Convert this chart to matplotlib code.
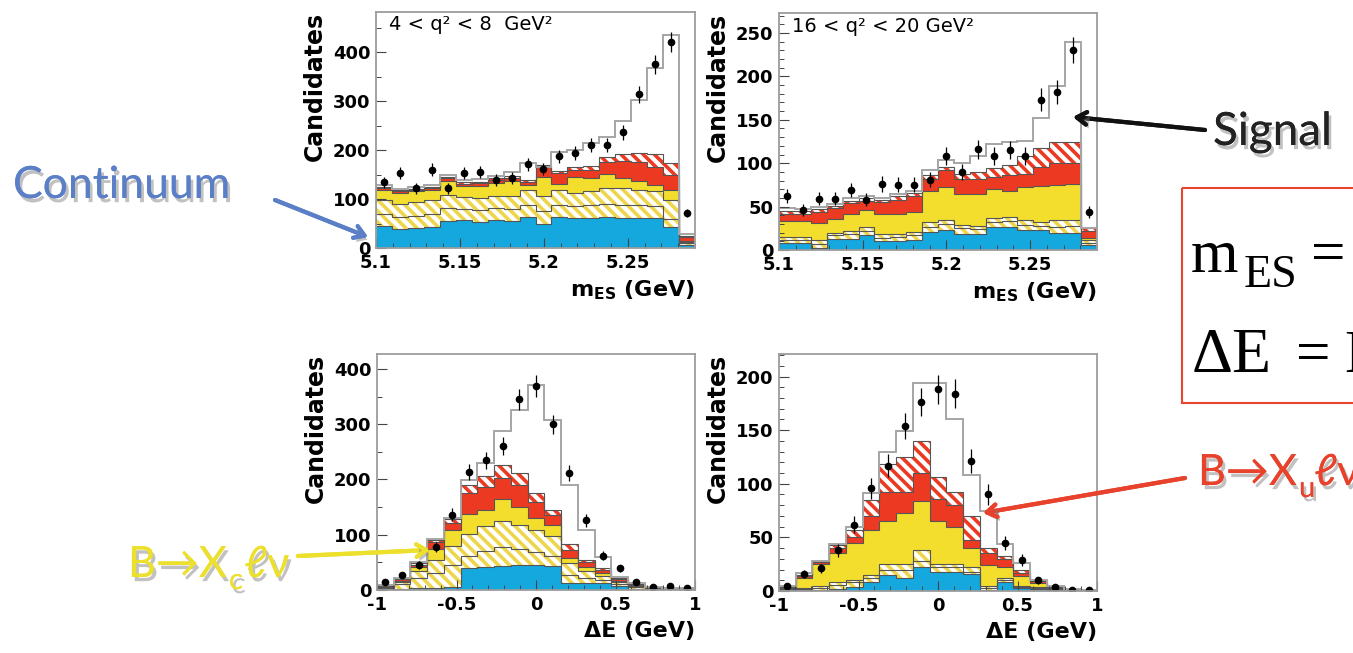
import numpy as np
import matplotlib
matplotlib.use('Agg')
import matplotlib.pyplot as plt
import matplotlib.patheffects as pe
from matplotlib.patches import Rectangle

W, H = 1353, 653

# binning
mes_edges = np.linspace(5.1, 5.29, 21)
de_edges = np.linspace(-1.0, 1.0, 20)

# ---- panel 1: mES, 4 < q2 < 8  (cumulative stack tops)
blue1 = [44, 38, 40, 42, 56, 58, 54, 58, 55, 64, 50, 64, 62, 62, 64, 62, 62, 62, 42, 7]
hatchA1 = [70, 64, 66, 70, 82, 80, 78, 82, 80, 88, 76, 88, 86, 88, 90, 88, 88, 86, 60, 10]
hatchB1 = [98, 90, 94, 98, 108, 105, 102, 106, 106, 118, 106, 118, 112, 116, 122, 122, 118, 116, 98, 12]
yellow1 = [118, 113, 116, 119, 136, 127, 127, 133, 136, 128, 146, 130, 146, 143, 152, 143, 137, 128, 118, 15]
red1 = [122, 116, 119, 122, 143, 131, 132, 138, 143, 134, 166, 153, 160, 160, 176, 178, 175, 165, 150, 22]
redhatch1 = [125, 118, 121, 125, 146, 134, 135, 142, 148, 138, 170, 158, 166, 168, 186, 192, 195, 193, 174, 25]
total1 = [128, 120, 124, 128, 150, 138, 140, 148, 156, 173, 165, 197, 200, 214, 226, 260, 303, 367, 435, 28]
data1 = [134, 153, 122, 160, 122, 153, 155, 139, 143, 171, 161, 187, 194, 211, 211, 236, 314, 375, 420, 71]

# ---- panel 2: mES, 16 < q2 < 20
blue2 = [8, 8, 2, 13, 13, 17, 10, 10, 12, 21, 23, 19, 19, 27, 27, 23, 23, 20, 20, 6]
hatchA2 = [12, 12, 7, 17, 18, 22, 14, 15, 17, 27, 30, 25, 24, 32, 33, 29, 28, 27, 28, 8]
hatchB2 = [15, 15, 12, 20, 22, 26, 18, 19, 21, 32, 35, 29, 28, 37, 38, 34, 32, 34, 35, 11]
yellow2 = [33, 33, 31, 36, 42, 46, 41, 42, 44, 68, 73, 65, 65, 70, 68, 72, 74, 75, 76, 14]
red2 = [42, 42, 44, 48, 54, 57, 55, 58, 62, 82, 92, 82, 82, 84, 86, 88, 96, 100, 100, 22]
redhatch2 = [45, 45, 47, 51, 57, 60, 58, 62, 66, 86, 96, 88, 90, 95, 98, 108, 118, 124, 124, 25]
total2 = [48, 47, 49, 53, 60, 62, 60, 64, 68, 92, 104, 100, 108, 122, 124, 125, 152, 189, 240, 25]
data2 = [62, 46, 59, 59, 69, 58, 76, 75, 75, 81, 108, 90, 116, 108, 115, 108, 173, 182, 230, 44]

# ---- panel 3: dE, 4 < q2 < 8
blue3 = [2, 2, 3, 4, 6, 40, 42, 44, 46, 46, 44, 13, 12, 12, 8, 2, 1, 1, 1]
hatchA3 = [4, 10, 22, 30, 45, 62, 70, 78, 75, 68, 62, 28, 22, 18, 10, 5, 2, 1, 1]
hatchB3 = [6, 14, 35, 55, 80, 102, 115, 125, 118, 108, 98, 48, 35, 25, 14, 6, 3, 2, 1]
yellow3 = [7, 17, 42, 75, 108, 137, 145, 165, 150, 130, 118, 58, 42, 30, 17, 8, 4, 2, 1]
red3 = [8, 19, 46, 86, 122, 175, 187, 202, 190, 160, 135, 72, 50, 37, 20, 9, 5, 3, 2]
redhatch3 = [9, 20, 48, 90, 128, 190, 206, 226, 211, 175, 145, 84, 54, 39, 21, 10, 5, 3, 2]
total3 = [9, 22, 50, 92, 130, 199, 229, 287, 326, 371, 308, 190, 109, 60, 24, 12, 6, 4, 3]
data3 = [14, 27, 45, 78, 136, 213, 235, 261, 345, 369, 300, 212, 126, 62, 39, 14, 5, 7, 3]

# ---- panel 4: dE, 16 < q2 < 20
blue4 = [0.5, 1, 1, 2, 4, 8, 15, 12, 22, 18, 18, 16, 1, 8, 3, 2, 0.5, 0, 0]
hatchA4 = [1, 2, 3, 6, 8, 12, 20, 20, 28, 22, 22, 18, 3, 10, 4, 3, 1, 0.5, 0]
hatchB4 = [1, 3, 5, 8, 10, 15, 25, 25, 38, 25, 25, 22, 5, 12, 5, 4, 2, 1, 0.5]
yellow4 = [2, 12, 25, 35, 45, 57, 65, 73, 84, 65, 60, 40, 24, 22, 14, 7, 3, 1, 0.5]
red4 = [3, 14, 27, 40, 50, 70, 92, 92, 110, 86, 80, 48, 35, 30, 17, 9, 3, 1, 1]
redhatch4 = [4, 15, 28, 43, 57, 85, 118, 125, 140, 106, 92, 70, 40, 33, 20, 10, 4, 1, 1]
total4 = [5, 17, 28, 44, 60, 91, 130, 149, 194, 194, 160, 108, 75, 44, 26, 10, 5, 2, 1]
data4 = [5, 16, 21, 38, 62, 96, 117, 154, 176, 188, 184, 121, 90, 45, 29, 10, 4, 1, 1]

BLUE = '#14a8df'
YEL = '#f3de2e'
HYEL = '#eed64c'
RED = '#ec3a22'
LINE = '#555555'

plt.rcParams['font.family'] = ['DejaVu Sans']
plt.rcParams['mathtext.default'] = 'regular'
plt.rcParams['hatch.linewidth'] = 2.6

fig = plt.figure(figsize=(W / 100, H / 100), dpi=100)

HATCH = '\\\\\\'  # three backslashes: denser stripes


def panel(rect, edges, layers, total, data, ylim, ymajor, yminor,
          xmajor, xlabels, xminor, xlabel, note=None):
    ax = fig.add_axes(rect)
    styles = [dict(facecolor=BLUE, edgecolor=BLUE),
              dict(facecolor='white', edgecolor=HYEL, hatch=HATCH),
              dict(facecolor='white', edgecolor=HYEL, hatch=HATCH),
              dict(facecolor=YEL, edgecolor=YEL),
              dict(facecolor=RED, edgecolor=RED),
              dict(facecolor='white', edgecolor=RED, hatch=HATCH)]
    prev = np.zeros(len(total))
    for top, st in zip(layers, styles):
        top = np.asarray(top, float)
        ax.stairs(top, edges, baseline=prev, fill=True, linewidth=0, **st)
        prev = top
    for top in layers:
        ax.stairs(top, edges, baseline=None, color=LINE, lw=0.8)
    ax.stairs(total, edges, color='#a5a5a5', lw=1.4)
    centers = 0.5 * (edges[:-1] + edges[1:])
    d = np.asarray(data, float)
    ax.errorbar(centers, d, yerr=np.sqrt(d), fmt='o', ms=4.5, color='black',
                elinewidth=0.9, capsize=0)

    ax.set_xlim(edges[0], edges[-1])
    ax.set_ylim(*ylim)
    ax.set_yticks(ymajor)
    ax.set_yticks(yminor, minor=True)
    ax.set_xticks(xmajor)
    ax.set_xticklabels(xlabels)
    ax.set_xticks(xminor, minor=True)
    ax.tick_params(direction='in', length=7, width=0.8, color='#444444',
                   labelsize=13, pad=4)
    ax.tick_params(which='minor', direction='in', length=3.5, width=0.7,
                   color='#444444')
    for lab in ax.get_xticklabels() + ax.get_yticklabels():
        lab.set_fontweight('bold')
    for s in ax.spines.values():
        s.set_color('#9c9c9c')
        s.set_linewidth(1.3)
    ax.set_ylabel('Candidates', loc='top', fontsize=17, fontweight='bold')
    ax.yaxis.set_label_coords(-0.155, 1.0)
    ax.set_xlabel(xlabel, loc='right', fontsize=16, fontweight='bold')
    ax.xaxis.set_label_coords(1.0, -0.13)
    if note:
        ax.text(0.04, 0.945, note, transform=ax.transAxes, fontsize=14,
                va='center', ha='left')
    return ax


mes_ticks = [5.1, 5.15, 5.2, 5.25]
mes_labels = ['5.1', '5.15', '5.2', '5.25']
de_ticks = [-1, -0.5, 0, 0.5, 1]
de_labels = ['-1', '-0.5', '0', '0.5', '1']

panel([376 / W, 1 - 248 / H, 319 / W, 236 / H], mes_edges,
      [blue1, hatchA1, hatchB1, yellow1, red1, redhatch1], total1, data1,
      (0, 482), [0, 100, 200, 300, 400], np.arange(0, 481, 50),
      mes_ticks, mes_labels, np.arange(5.1, 5.29, 0.01),
      'm$_{ES}$ (GeV)', '4 < q² < 8  GeV²')
panel([779 / W, 1 - 250 / H, 318 / W, 237 / H], mes_edges,
      [blue2, hatchA2, hatchB2, yellow2, red2, redhatch2], total2, data2,
      (0, 273), [0, 50, 100, 150, 200, 250], np.arange(0, 271, 10),
      mes_ticks, mes_labels, np.arange(5.1, 5.29, 0.01),
      'm$_{ES}$ (GeV)', '16 < q² < 20 GeV²')
panel([377 / W, 1 - 590 / H, 318 / W, 236 / H], de_edges,
      [blue3, hatchA3, hatchB3, yellow3, red3, redhatch3], total3, data3,
      (0, 427), [0, 100, 200, 300, 400], np.arange(0, 426, 50),
      de_ticks, de_labels, np.arange(-1, 1.01, 0.1),
      'ΔE (GeV)')
panel([779 / W, 1 - 591 / H, 318 / W, 237 / H], de_edges,
      [blue4, hatchA4, hatchB4, yellow4, red4, redhatch4], total4, data4,
      (0, 221), [0, 50, 100, 150, 200], np.arange(0, 221, 10),
      de_ticks, de_labels, np.arange(-1, 1.01, 0.1),
      'ΔE (GeV)')

# overlay for the slide annotations, in image pixel coordinates
ov = fig.add_axes([0, 0, 1, 1])
ov.set_xlim(0, W)
ov.set_ylim(H, 0)
ov.axis('off')

shadow = [pe.withSimplePatchShadow(offset=(2, -3), shadow_rgbFace='#777777', alpha=0.45),
          pe.Normal()]
ann_font = ['Lato', 'DejaVu Sans']


def arrow(tail, head, color, lw=3):
    ov.annotate('', xy=head, xytext=tail, annotation_clip=False,
                arrowprops=dict(arrowstyle='->,head_length=0.7,head_width=0.45',
                                color=color, lw=lw, shrinkA=0, shrinkB=0,
                                path_effects=shadow))


ov.text(13, 198, 'Continuum', fontsize=32, color='#5b7fc7', family=ann_font,
        ha='left', va='baseline', path_effects=shadow)
arrow((275, 200), (368, 237), '#5b7fc7')

ov.text(1213, 145, 'Signal', fontsize=33, color='#222222', family=ann_font,
        ha='left', va='baseline', path_effects=shadow)
arrow((1205, 130), (1073, 117), '#111111')

# B -> Xu l nu
ov.text(1198, 485, 'B→X', fontsize=31, color='#e8412c', family=ann_font,
        ha='left', va='baseline', path_effects=shadow)
ov.text(1299, 497, 'u', fontsize=21, color='#e8412c', family=ann_font,
        ha='left', va='baseline', path_effects=shadow)
ov.text(1314, 485, 'ℓν', fontsize=31, color='#e8412c', family=ann_font,
        ha='left', va='baseline', path_effects=shadow)
arrow((1185, 478), (983, 513), '#e8412c')

# B -> Xc l nu
ov.text(128, 577, 'B→X', fontsize=31, color='#ece02c', family=ann_font,
        ha='left', va='baseline', path_effects=shadow)
ov.text(229, 589, 'c', fontsize=21, color='#ece02c', family=ann_font,
        ha='left', va='baseline', path_effects=shadow)
ov.text(244, 577, 'ℓν', fontsize=31, color='#ece02c', family=ann_font,
        ha='left', va='baseline', path_effects=shadow)
arrow((298, 556), (430, 550), '#ece02c')

# formula box (cut by the right edge)
ov.add_patch(Rectangle((1182, 188), 260, 215, fill=False, edgecolor='#e8452e',
                       lw=1.5, clip_on=False))
serif = ['Liberation Serif', 'DejaVu Serif']
ov.text(1191, 272, 'm', fontsize=44, family=serif, ha='left', va='baseline')
ov.text(1244, 287, 'ES', fontsize=33, family=serif, ha='left', va='baseline')
ov.text(1311, 272, '=', fontsize=44, family=serif, ha='left', va='baseline')
ov.text(1192, 372, 'ΔE', fontsize=46, family=serif, ha='left', va='baseline')
ov.text(1296, 372, '=', fontsize=44, family=serif, ha='left', va='baseline')
ov.text(1344, 372, 'E', fontsize=44, family=serif, ha='left', va='baseline')

fig.savefig('out.png', dpi=100)
